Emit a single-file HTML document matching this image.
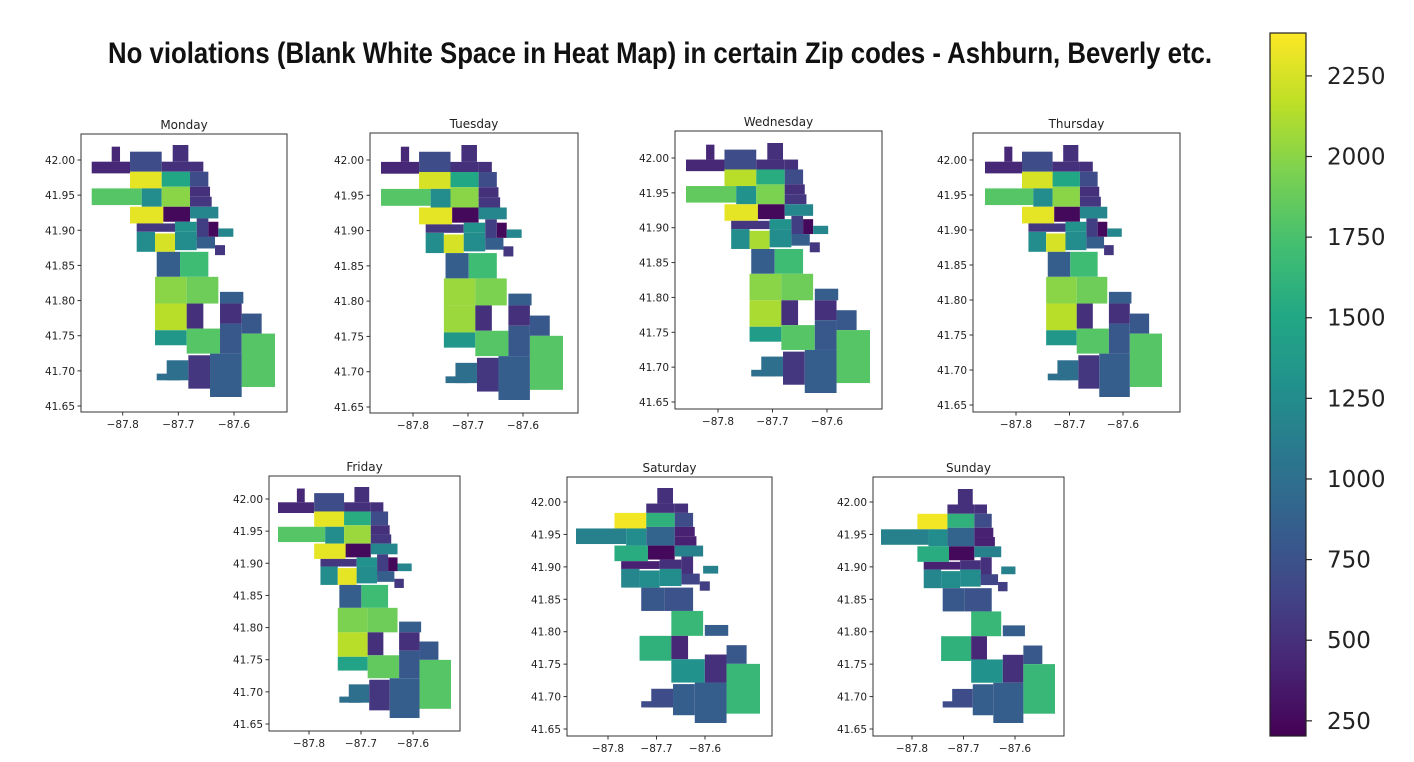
<!DOCTYPE html>
<html><head><meta charset="utf-8"><style>
html,body{margin:0;padding:0;background:#fff;}
svg{display:block;}
text{font-family:"DejaVu Sans","Liberation Sans",sans-serif;fill:#222;}
</style></head><body>
<svg id="chart" width="1414" height="762" viewBox="0 0 1414 762">
<text x="660" y="63" text-anchor="middle" textLength="1104" lengthAdjust="spacingAndGlyphs" style="font-family:'Liberation Sans Narrow','Liberation Sans',sans-serif;font-weight:bold;font-size:30px;fill:#111">No violations (Blank White Space in Heat Map) in certain Zip codes - Ashburn, Beverly etc.</text>
</svg>
<script>
const days = ["Monday","Tuesday","Wednesday","Thursday","Friday","Saturday","Sunday"];
const yTicks = [42.00,41.95,41.90,41.85,41.80,41.75,41.70,41.65];
const xTicks = [-87.8,-87.7,-87.6];
const cbTicks = [250,500,750,1000,1250,1500,1750,2000,2250];
// values per zip cell (order A..AP), null = no violations
const monVals = [450,700,500,500,500,2300,1500,700,1800,1250,2000,500,550,2300,250,1200,550,1300,600,250,1200,1250,2250,1250,850,550,850,1700,2000,1900,850,2150,500,500,800,1350,1800,800,1800,1000,550,850];
const tueVals = [450,700,500,500,500,2250,1500,700,1800,1250,2000,500,550,2300,250,1200,550,1300,600,250,1200,1250,2250,1250,850,550,850,1700,2050,1950,850,2050,500,500,800,1350,1800,800,1800,1000,550,850];
const wedVals = [450,700,500,500,500,2150,1550,700,1850,1300,1950,500,550,2300,250,1200,550,1300,600,250,1200,1250,2100,1250,850,550,850,1700,2000,1900,850,2100,500,500,800,1400,1800,800,1800,1000,550,850];
const thuVals = [450,700,500,500,500,2250,1500,700,1800,1250,2000,500,550,2300,250,1200,550,1300,600,250,1200,1250,2250,1250,850,550,850,1700,2000,1900,850,2150,500,500,800,1350,1800,800,1800,1000,550,850];
const friVals = [450,700,500,500,500,2300,1550,700,1800,1250,2050,500,550,2300,250,1200,550,1300,600,250,1200,1250,2300,1250,850,550,850,1700,1950,1900,850,2150,500,500,800,1450,1850,800,1800,1000,550,850];
const satVals = [null,null,500,500,500,2350,1600,700,1150,1250,900,400,400,1550,250,1150,400,500,500,null,1150,1200,1250,1250,650,600,800,750,null,1650,850,1600,450,null,800,null,1300,500,1650,700,850,850];
const sunVals = [null,null,500,500,500,2350,1600,700,1150,1250,900,400,400,1550,250,1150,400,500,500,null,1150,1200,1250,1250,650,600,800,750,null,1650,850,1600,450,null,800,null,1300,500,1650,700,850,850];
const dayValues = [monVals,tueVals,wedVals,thuVals,friVals,satVals,sunVals];
const vmin = 203, vmax = 2383;

// geometry: zip cell rectangles in reference shape units (bbox 35..585 x 45..800)
const cellRects = [
 [[35,95,150,130],[95,50,120,95]],[[150,65,245,125]],[[278,45,325,95]],[[245,95,330,125]],[[330,95,370,125]],
 [[150,125,245,175]],[[245,125,330,170]],[[330,125,385,170]],[[35,175,185,225]],[[185,175,245,230]],
 [[245,170,330,230]],[[330,170,390,200]],[[330,200,395,230]],[[150,230,250,280]],[[250,230,330,275]],
 [[330,230,415,265]],[[170,280,285,305]],[[285,275,350,305]],[[350,265,385,330]],[[385,275,415,320]],
 [[415,295,460,320]],[[170,305,225,365]],[[225,310,285,365]],[[285,305,350,360]],[[350,320,405,355]],
 [[405,345,435,375]],[[230,365,300,440]],[[300,365,385,440]],[[225,440,320,520]],[[320,440,415,520]],
 [[420,485,490,520]],[[225,520,320,600]],[[320,520,370,595]],[[420,520,485,580]],[[485,550,545,610]],
 [[225,600,320,645]],[[320,595,420,670]],[[420,580,485,670]],[[485,610,585,770]],[[260,690,325,750],[230,730,300,750]],
 [[325,675,390,775]],[[390,670,485,800]]
];
const panels = [
 {f:[81,134,287,412],x8:122.7,x6:234,y42:160,y65:406,m:[91.7,145,275,397]},
 {f:[370,133,578,413],x8:413,x6:523,y42:160,y65:407,m:[381,145,563,400]},
 {f:[675,131,882,409],x8:718,x6:827,y42:158,y65:402,m:[686,143,870,393]},
 {f:[973,133,1180,412],x8:1016,x6:1123,y42:160,y65:405,m:[985,145,1162,397]},
 {f:[269,476,460,731],x8:309,x6:413,y42:499,y65:724,m:[278,487,451,718]},
 {f:[567,477,772,736],x8:608,x6:705,y42:502,y65:729,m:[576,488,760,723]},
 {f:[873,477,1064,736],x8:912,x6:1015,y42:502,y65:729,m:[881,489,1055,723]}
];
const stops=["#440154","#482475","#414487","#355f8d","#2a788e","#21918c","#22a884","#44bf70","#7ad151","#bddf26","#fde725"];
function hex(c){return [1,3,5].map(i=>parseInt(c.substr(i,2),16));}
function viridis(t){t=Math.max(0,Math.min(1,t));const s=t*10,i=Math.min(9,Math.floor(s)),f=s-i;const a=hex(stops[i]),b=hex(stops[i+1]);return "rgb("+a.map((v,k)=>Math.round(v+(b[k]-v)*f)).join(",")+")";}
const NS="http://www.w3.org/2000/svg";
const svg=document.getElementById("chart");
function mk(tag,attrs,parent){const e=document.createElementNS(NS,tag);for(const k in attrs)e.setAttribute(k,attrs[k]);(parent||svg).appendChild(e);return e;}

days.forEach((day,d)=>{
  const p=panels[d];const [fx0,fy0,fx1,fy1]=p.f;const [mx0,my0,mx1,my1]=p.m;
  const g=mk("g",{});
  
  
  const xS=lon=>p.x8+(lon+87.8)/0.2*(p.x6-p.x8);
  const yS=lat=>p.y42+(42-lat)/0.35*(p.y65-p.y42);
  const sx=zx=>mx0+(zx-35)/550*(mx1-mx0);
  const sy=zy=>my0+(zy-45)/755*(my1-my0);
  const vals=dayValues[d];
  cellRects.forEach((rects,ci)=>{
    const v=vals[ci]; if(v===null||v===undefined) return;
    rects.forEach(r=>{
      const x0=sx(r[0]),x1=sx(r[2]),y0=sy(r[1]),y1=sy(r[3]);
      const rc=mk("rect",{x:x0,y:y0,width:x1-x0,height:y1-y0,fill:viridis((v-vmin)/(vmax-vmin))},g);
      
      
    });
  });
  const fr=mk("rect",{x:fx0,y:fy0,width:fx1-fx0,height:fy1-fy0,fill:"none",stroke:"#333","stroke-width":1},g);
  
  
  const t=mk("text",{x:(fx0+fx1)/2,y:fy0-5,"text-anchor":"middle","font-size":"12"},g);
  t.textContent=day;
  
  
  yTicks.forEach(v=>{
    const y=yS(v);
    mk("line",{x1:fx0-3.5,x2:fx0,y1:y,y2:y,stroke:"#333"},g);
    const l=mk("text",{x:fx0-6,y:y+4,"text-anchor":"end","font-size":"10.5"},g);
    l.textContent=v.toFixed(2);
    
    
  });
  xTicks.forEach(v=>{
    const x=xS(v);
    mk("line",{x1:x,x2:x,y1:fy1,y2:fy1+3.5,stroke:"#333"},g);
    const l=mk("text",{x:x,y:fy1+16,"text-anchor":"middle","font-size":"10.5"},g);
    l.textContent="\u2212"+Math.abs(v).toFixed(1);
    
    
  });
});

// colorbar
const cb=mk("g",{});


const cbx=1270,cbw=36,cbTop=33,cbBot=736;
const cbY=v=>cbBot-(v-vmin)/(vmax-vmin)*(cbBot-cbTop);
const defs=mk("defs",{},cb);
const lg=mk("linearGradient",{id:"vir",x1:0,y1:1,x2:0,y2:0},defs);
for(let i=0;i<=20;i++){mk("stop",{offset:i/20,"stop-color":viridis(i/20)},lg);}
mk("rect",{x:cbx,y:cbTop,width:cbw,height:cbBot-cbTop,fill:"url(#vir)",stroke:"#222","stroke-width":1.2},cb);
cbTicks.forEach(v=>{
  const y=cbY(v);
  mk("line",{x1:cbx+cbw,x2:cbx+cbw+6,y1:y,y2:y,stroke:"#222","stroke-width":1.2},cb);
  const l=mk("text",{x:cbx+cbw+21,y:y+8,"font-size":"23"},cb);
  l.textContent=String(v);
  
  
});
</script>
</body></html>
